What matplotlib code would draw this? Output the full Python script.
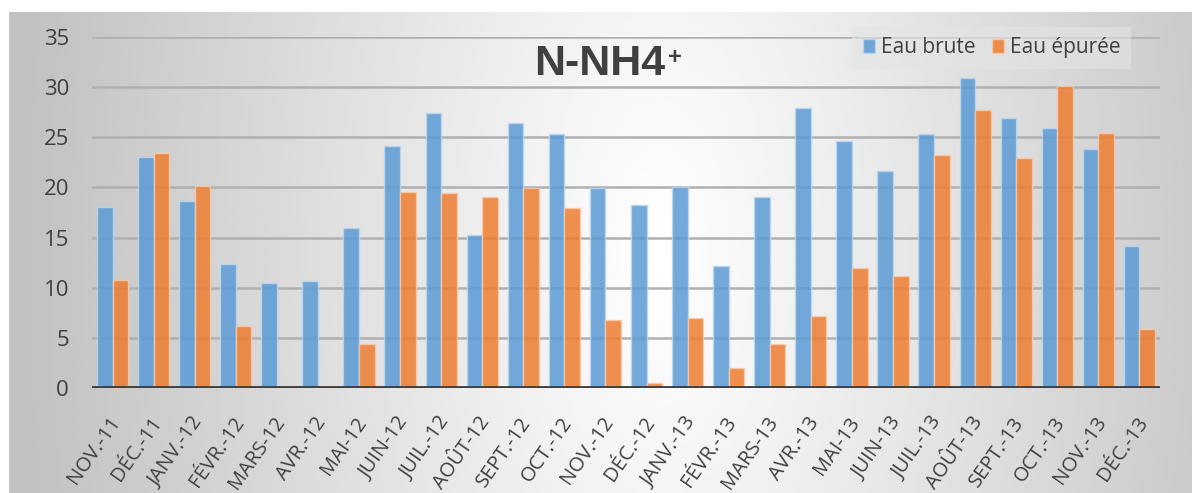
import numpy as np
import matplotlib.pyplot as plt
from matplotlib.patches import Patch
from matplotlib.transforms import ScaledTranslation

months = ["NOV.-11", "DÉC.-11", "JANV.-12", "FÉVR.-12", "MARS-12", "AVR.-12",
          "MAI-12", "JUIN-12", "JUIL.-12", "AOÛT-12", "SEPT.-12", "OCT.-12",
          "NOV.-12", "DÉC.-12", "JANV.-13", "FÉVR.-13", "MARS-13", "AVR.-13",
          "MAI-13", "JUIN-13", "JUIL.-13", "AOÛT-13", "SEPT.-13", "OCT.-13",
          "NOV.-13", "DÉC.-13"]
eau_brute = [18.0, 23.0, 18.6, 12.4, 10.5, 10.7, 16.0, 24.1, 27.4, 15.3, 26.4, 25.3,
             19.9, 18.2, 20.0, 12.2, 19.0, 27.9, 24.6, 21.6, 25.3, 30.9, 26.9, 25.9,
             23.8, 14.2]
eau_epuree = [10.8, 23.4, 20.1, 6.2, 0.2, 0.2, 4.4, 19.5, 19.4, 19.0, 19.9, 17.9,
              6.8, 0.5, 7.0, 2.0, 4.4, 7.2, 12.0, 11.2, 23.2, 27.7, 22.9, 30.1,
              25.4, 5.9]

text_col = "#404040"
blue = "#5B9BD5"
orange = "#ED7D31"
plt.rcParams["font.family"] = ["Open Sans", "DejaVu Sans"]

fig = plt.figure(figsize=(11.92, 4.93), dpi=100)

# background gradient (grey edges, white centre)
bg = fig.add_axes([9 / 1192, 0, 1 - 9 / 1192, 1 - 12 / 493], zorder=-10)
xx, yy = np.meshgrid(np.linspace(0, 1, 400), np.linspace(0, 1, 200))
d = np.sqrt(((xx - 0.55) / 0.47) ** 2 + ((yy - 0.5) / 2.5) ** 2)
shade = np.clip(1 - 0.21 * d, 0.76, 1)
bg.imshow(shade, cmap="gray", vmin=0, vmax=1, aspect="auto", extent=[0, 1, 0, 1])
bg.axis("off")

ax = fig.add_axes([92 / 1192, 105 / 493, 1068 / 1192, 351 / 493])
ax.set_facecolor("none")

x = np.arange(len(months))
w = 0.38
ax.bar(x - w / 2, eau_brute, w, color=blue, alpha=0.85, edgecolor="#bdd7ee",
       linewidth=1, zorder=3, label="Eau brute")
ax.bar(x + w / 2, eau_epuree, w, color=orange, alpha=0.85, edgecolor="#f8cbad",
       linewidth=1, zorder=3, label="Eau épurée")

ax.set_xlim(-0.5, len(months) - 0.5)
ax.set_ylim(0, 35)
ax.set_yticks(range(0, 36, 5))
ax.yaxis.grid(True, color="#b0b0b0", linewidth=1.8, zorder=0)
ax.axhline(0, color="#404040", linewidth=3.5, zorder=4)
for s in ax.spines.values():
    s.set_visible(False)
ax.tick_params(length=0)
ax.tick_params(axis="y", labelcolor=text_col, labelsize=16, pad=16.5)
ax.tick_params(axis="x", pad=18)
ax.set_xticks(x)
ax.set_xticklabels(months, rotation=55, ha="right", rotation_mode="anchor",
                   color=text_col, fontsize=14.5)
shift = ScaledTranslation(-4 / 100, 0, fig.dpi_scale_trans)
for lab in ax.get_xticklabels():
    lab.set_transform(lab.get_transform() + shift)

t = ax.text(0.4757, 0.923, "N-NH4", transform=ax.transAxes, ha="center",
            va="center", color=text_col, fontsize=31, fontweight="bold",
            family="Liberation Sans")
ax.annotate("+", xy=(1, 1), xycoords=t, xytext=(1.5, -1.5), textcoords="offset points",
            ha="left", va="top", color=text_col, fontsize=17, fontweight="bold",
            family="Liberation Sans")

handles = [Patch(facecolor=blue, edgecolor="#bdd7ee", alpha=0.85),
           Patch(facecolor=orange, edgecolor="#f8cbad", alpha=0.85)]
leg = ax.legend(handles, ["Eau brute", "Eau épurée"], loc="upper right",
                bbox_to_anchor=(0.983, 1.058), ncol=2, frameon=True,
                fontsize=15, handlelength=0.6, handleheight=0.65,
                handletextpad=0.3, columnspacing=0.75, borderpad=0.5)
leg.get_frame().set_facecolor("#e4e4e4")
leg.get_frame().set_edgecolor("none")
leg.get_frame().set_alpha(0.6)
leg.get_frame().set_boxstyle("square", pad=0)
for tx in leg.get_texts():
    tx.set_color(text_col)

fig.savefig("out.png", dpi=100)
